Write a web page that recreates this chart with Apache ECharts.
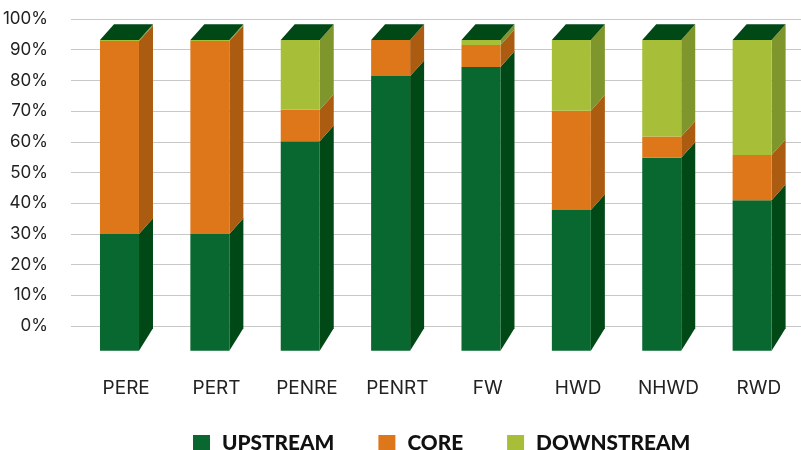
<!DOCTYPE html>
<html><head><meta charset="utf-8">
<style>html,body{margin:0;padding:0;background:#fff}#c{width:801px;height:450px}</style>
<script src="https://cdn.jsdelivr.net/npm/echarts@6/dist/echarts.min.js"></script>
</head><body><div id="c"></div>
<script>
var categories = ['PERE','PERT','PENRE','PENRT','FW','HWD','NHWD','RWD'];
var upstream   = [30,30,60.2,81.4,84.4,37.8,54.8,41];
var core       = [62.8,62.8,10.2,11.8,7.1,32.3,6.9,14.7];
var downstream = [0.4,0.4,22.8,0,1.7,23.1,31.5,37.5];
var seriesNames = ['UPSTREAM','CORE','DOWNSTREAM'];
var floorValue = -8.1;

var FONT = 'Inter, Lato, sans-serif';
var LEGEND_FONT = 'Lato, sans-serif';
var palette = [
  {front:'#08682f', side:'#004815'},
  {front:'#de771a', side:'#ab5c10'},
  {front:'#a7bf38', side:'#7f962c'}
];
var TOP = '#004815';
var W = 39, DX = 14, DY = 15.7, DYB = 22.7, SHIFT = 26.2;

function poly(pts, fill){
  return {type:'polygon', shape:{points:pts}, style:{fill:fill}, silent:true};
}
function render(idx){
  return function(params, api){
    var cat = api.value(0), lo = api.value(1), hi = api.value(2);
    var c = api.coord([cat, hi]), l = api.coord([cat, lo]);
    var x0 = c[0]-SHIFT, x1 = x0+W, yT = c[1], yB = l[1];
    var kids = [];
    var isFloor = idx===0;
    var backB = yB-(isFloor?DYB:DY);
    if (hi>lo) {
      kids.push(poly([[x1,yT],[x1+DX,yT-DY],[x1+DX,backB],[x1,yB]], palette[idx].side));
      kids.push(poly([[x0,yT],[x1,yT],[x1,yB],[x0,yB]], palette[idx].front));
    }
    if (idx===2) {
      kids.push(poly([[x0,yT],[x1,yT],[x1+DX,yT-DY],[x0+DX,yT-DY]], TOP));
    }
    return {type:'group', children:kids};
  };
}
function build(idx){
  return categories.map(function(_,i){
    var lo = idx===0 ? floorValue : upstream[i] + (idx===2 ? core[i] : 0);
    var v = [upstream,core,downstream][idx][i];
    var hi = idx===0 ? v : lo+v;
    return [i,lo,hi];
  });
}
var chart = echarts.init(document.getElementById('c'),null,{renderer:'canvas'});
chart.setOption({
  animation:false,
  backgroundColor:'#fff',
  legend:{
    left:193, top:433, padding:0, itemWidth:17, itemHeight:17, itemGap:44, icon:'rect',
    textStyle:{fontFamily:LEGEND_FONT,fontWeight:900,fontSize:20.8,color:'#111',padding:[0,0,0,7]},
    data:seriesNames
  },
  grid:[
    {left:71,width:730,top:19,height:307,outerBoundsMode:'none'},
    {left:81,width:723,top:19,height:307,outerBoundsMode:'none'}
  ],
  xAxis:[
    {gridIndex:0,type:'category',data:categories,show:false},
    {gridIndex:1,type:'category',data:categories,
     axisLine:{show:false},axisTick:{show:false},splitLine:{show:false},
     axisLabel:{margin:53,interval:0,fontFamily:FONT,fontSize:19,color:'#222'}}
  ],
  yAxis:[
    {gridIndex:0,type:'value',min:0,max:100,interval:10,
     axisLine:{show:false},axisTick:{show:false},
     splitLine:{lineStyle:{color:'#c8c8c8',width:1}},
     axisLabel:{margin:23,fontFamily:FONT,fontSize:17,color:'#222',formatter:'{value}%'}},
    {gridIndex:1,type:'value',min:0,max:100,show:false}
  ],
  series:[0,1,2].map(function(idx){
    return {
      name:seriesNames[idx], type:'custom', xAxisIndex:1, yAxisIndex:1,
      clip:false, renderItem:render(idx), data:build(idx),
      itemStyle:{color:palette[idx].front},
      encode:{x:0,y:[1,2]}, z:2+idx
    };
  })
});
</script></body></html>
